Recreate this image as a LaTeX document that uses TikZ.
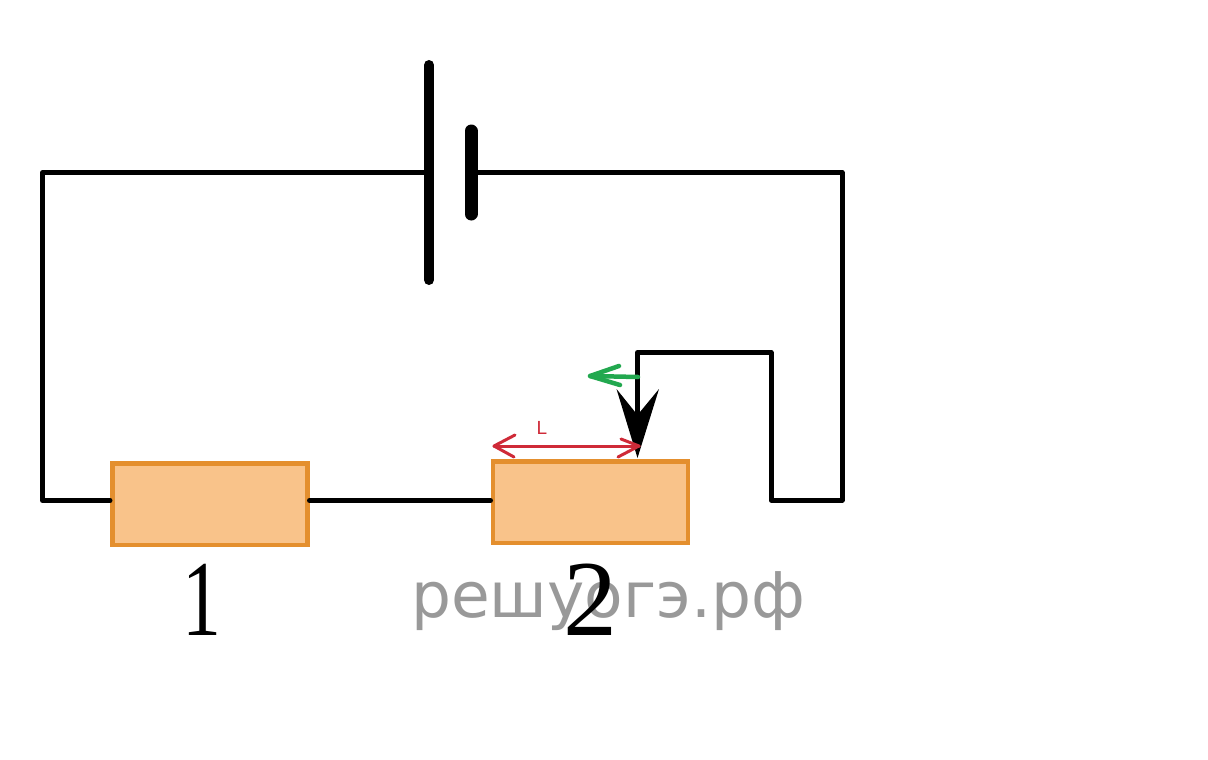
\documentclass[tikz,border=0pt]{standalone}
\usepackage{fontspec}
\setmainfont{Liberation Serif}
\newfontfamily\wm{DejaVu Sans}
\newfontfamily\lbl{Liberation Sans}
\usetikzlibrary{calc}
\begin{document}
\begin{tikzpicture}[x=1pt,y=-1pt,
 wire/.style={line width=5pt,line cap=round,line join=round,draw=black},
 plate/.style={line width=10pt,line cap=round,draw=black},
 res/.style={draw=resedge,fill=resfill,line width=4.5pt,minimum width=195pt,minimum height=81.5pt,inner sep=0pt,anchor=north west},
 red1/.style={draw=redc,line width=3pt,line cap=round,line join=round},
 green1/.style={draw=greenc,line width=4.5pt,line cap=round,line join=round}]
\definecolor{resedge}{HTML}{E48F2E}
\definecolor{resfill}{HTML}{F9C38A}
\definecolor{redc}{HTML}{CF2A38}
\definecolor{greenc}{HTML}{22A84F}
\useasboundingbox (0,0) rectangle (1208,760);
\fill[white] (0,0) rectangle (1208,760);
\coordinate (pa1) at (429,65);
\coordinate (pa2) at (429,280);
\coordinate (pb1) at (471,131);
\coordinate (pb2) at (471,214);
\coordinate (wl) at (429,172.5);
\coordinate (wr) at (471,172.5);
\coordinate (tr) at (842,172.5);
\coordinate (br) at (842,500);
\coordinate (bi) at (771,500);
\coordinate (ti) at (771,352.5);
\coordinate (tip) at (637.5,352.5);
\coordinate (arrow) at (637.5,458);
\coordinate (tl) at (42.5,172.5);
\coordinate (bl) at (42.5,500.5);
\node[res] (r1) at (110,461) {};
\node[res] (r2) at (490.5,459) {};
\draw[wire] (wl) -- (tl) -- (bl) -- (r1.west |- bl);
\draw[wire] (r1.east |- bl) -- (r2.west |- bl);
\draw[wire] (wr) -- (tr) -- (br) -- (bi) -- (ti) -- (tip) -- (637.5,420);
\draw[plate] (pa1) -- (pa2);
\draw[plate,line width=13pt] (pb1) -- (pb2);
\fill[black] (arrow) -- (616.5,389) -- (637.5,415) -- (659,389) -- cycle;
\draw[green1] (638,377) -- (590,376);
\draw[green1] (619,366) -- (590,376) -- (620,385);
\draw[red1] (494,446) -- (639,446);
\draw[red1] (515,435) -- (494,446) -- (514,457);
\draw[red1] (621,439) -- (639,446) -- (618,457);
\node[text=redc,font=\lbl\fontsize{19}{19}\selectfont] (lab) at (542,428) {L};
\node[text=black!40,font=\wm\fontsize{63}{63}\selectfont] (wmk) at (608,601) {решуогэ.рф};
\node[font=\fontsize{108}{108}\selectfont,xscale=0.72] (n1) at (202,600) {1};
\node[font=\fontsize{108}{108}\selectfont] (n2) at (590,600) {2};
\end{tikzpicture}
\end{document}
